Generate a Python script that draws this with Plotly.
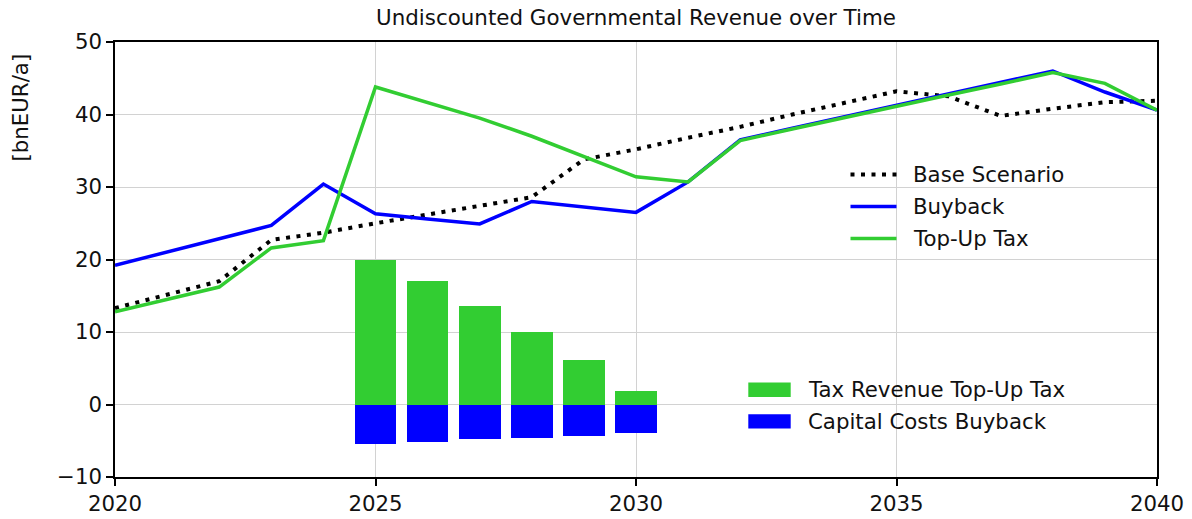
import plotly.graph_objects as go

years = list(range(2020, 2041))
base_scenario = [13.3, 15.1, 17.0, 22.7, 23.7, 25.0, 26.2, 27.4, 28.6, 33.8, 35.2,
                 36.8, 38.3, 40.0, 41.6, 43.2, 42.5, 39.8, 40.8, 41.7, 41.9]
buyback = [19.2, 21.0, 22.9, 24.7, 30.4, 26.3, 25.6, 24.9, 28.0, 27.2, 26.5,
           30.7, 36.5, 38.1, 39.7, 41.3, 42.9, 44.4, 46.0, 43.1, 40.6]
top_up_tax = [12.8, 14.5, 16.2, 21.6, 22.6, 43.8, 41.6, 39.5, 37.0, 34.2, 31.4,
              30.7, 36.4, 38.0, 39.6, 41.1, 42.7, 44.2, 45.8, 44.3, 40.6]

bar_years = [2025, 2026, 2027, 2028, 2029, 2030]
tax_revenue = [20.0, 17.0, 13.6, 10.0, 6.1, 1.8]
capital_costs = [-5.4, -5.2, -4.8, -4.6, -4.4, -3.9]

line_names = ["Base Scenario", "Buyback", "Top-Up Tax"]
bar_names = ["Tax Revenue Top-Up Tax", "Capital Costs Buyback"]

GREEN = "#32CD32"
BLUE = "#0000FF"
FONT = "DejaVu Sans"
FS = 21.3
TXT = "#111111"
DOT = "4px,6.5px"

W, H = 1192, 519
L, R, T, B = 115, 35, 42, 42
PW, PH = W - L - R, H - T - B


def px_x(p):
    return (p - L) / PW


def px_y(p):
    return (H - B - p) / PH


fig = go.Figure()

fig.add_trace(go.Bar(x=bar_years, y=tax_revenue, name=bar_names[0],
                     marker=dict(color=GREEN, line=dict(width=0)), width=0.8))
fig.add_trace(go.Bar(x=bar_years, y=capital_costs, name=bar_names[1],
                     marker=dict(color=BLUE, line=dict(width=0)), width=0.8))

line_styles = [dict(color="black", width=4, dash=DOT),
               dict(color=BLUE, width=3.5),
               dict(color=GREEN, width=3.5)]
for name, vals, st in zip(line_names, [base_scenario, buyback, top_up_tax], line_styles):
    fig.add_trace(go.Scatter(x=years, y=vals, mode="lines", name=name, line=st))

axis_common = dict(showline=True, linecolor="black", linewidth=1.5, mirror=True,
                   ticks="outside", ticklen=7, tickwidth=1.5, tickcolor="black",
                   showgrid=True, gridcolor="#d2d2d2", gridwidth=1, zeroline=False,
                   automargin=False,
                   tickfont=dict(family=FONT, size=FS, color=TXT))

fig.update_layout(
    width=W, height=H,
    margin=dict(l=L, r=R, t=T, b=B, autoexpand=False),
    paper_bgcolor="white", plot_bgcolor="white",
    barmode="relative", bargap=0,
    showlegend=False,
    font=dict(family=FONT, size=FS, color=TXT),
    title=dict(text="Undiscounted Governmental Revenue over Time",
               x=636 / W, xanchor="center", y=1 - 18 / H, yanchor="middle",
               font=dict(family=FONT, size=21.4, color=TXT)),
    xaxis=dict(range=[2020, 2040], tickvals=[2020, 2025, 2030, 2035, 2040], **axis_common),
    yaxis=dict(range=[-10, 50], tickvals=[-10, 0, 10, 20, 30, 40, 50], **axis_common),
)

# line legend
line_rows = [174.5, 206.5, 238.5]
for name, st, yc in zip(line_names, line_styles, line_rows):
    fig.add_shape(type="line", xref="paper", yref="paper",
                  x0=px_x(850.5), x1=px_x(896.5), y0=px_y(yc), y1=px_y(yc),
                  line=dict(color=st["color"], width=st["width"], dash=st.get("dash", "solid")))
    fig.add_annotation(text=name, xref="paper", yref="paper", x=px_x(910.5), y=px_y(yc),
                       xanchor="left", yanchor="middle", showarrow=False,
                       font=dict(family=FONT, size=FS, color=TXT))

# bar legend
patch_rows = [389.7, 421.4]
patch_colors = [GREEN, BLUE]
for name, col, yc in zip(bar_names, patch_colors, patch_rows):
    fig.add_shape(type="rect", xref="paper", yref="paper",
                  x0=px_x(748.3), x1=px_x(790.7), y0=px_y(yc - 7.2), y1=px_y(yc + 7.2),
                  fillcolor=col, line=dict(width=0))
    fig.add_annotation(text=name, xref="paper", yref="paper", x=px_x(806), y=px_y(yc),
                       xanchor="left", yanchor="middle", showarrow=False,
                       font=dict(family=FONT, size=FS, color=TXT))

fig.add_annotation(text="[bnEUR/a]", textangle=-90, xref="paper", yref="paper",
                   x=px_x(20), y=px_y(107.5), xanchor="center",
                   yanchor="middle", showarrow=False,
                   font=dict(family=FONT, size=FS, color=TXT))

fig.write_html("out.html", config={"displayModeBar": False},
               post_script="document.body.style.margin='0';document.body.style.padding='0';")
